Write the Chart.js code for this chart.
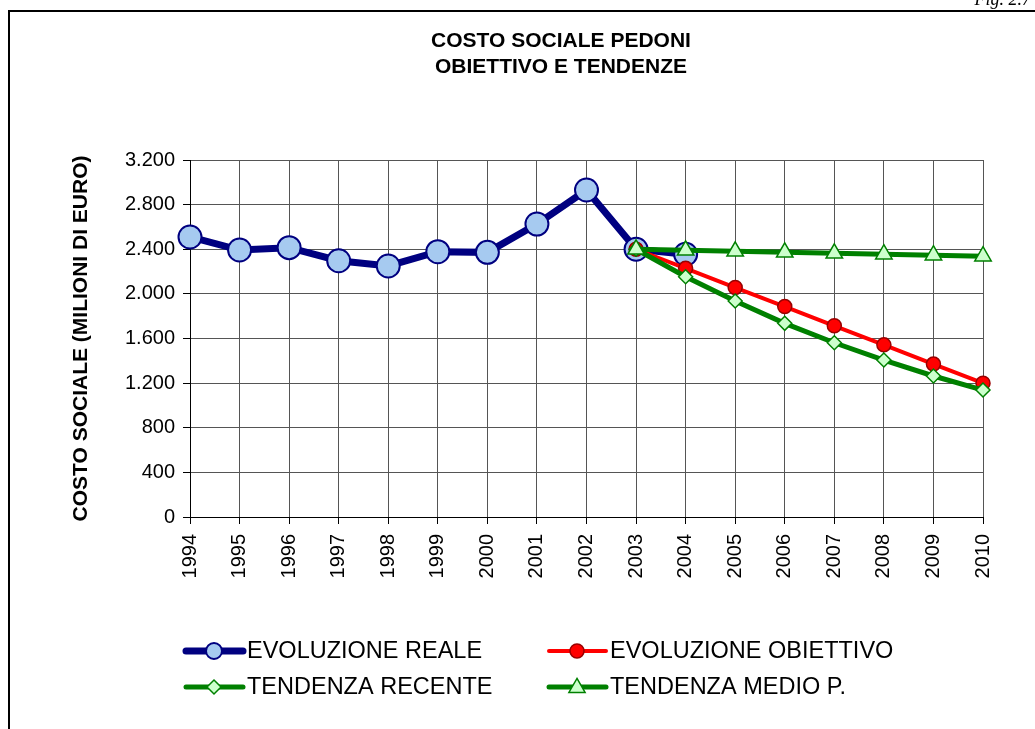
<!DOCTYPE html>
<html>
<head>
<meta charset="utf-8">
<script src="https://cdn.jsdelivr.net/npm/chart.js@4.4.0/dist/chart.umd.min.js"></script>
<style>
  html, body { margin: 0; padding: 0; background: #fff; }
  #wrap { width: 1035px; height: 729px; position: relative; }
</style>
</head>
<body>
<div id="wrap"><canvas id="costoChart" width="1035" height="729"></canvas></div>
<script>
// ---- data ----
const years = ["1994", "1995", "1996", "1997", "1998", "1999", "2000", "2001", "2002",
  "2003", "2004", "2005", "2006", "2007", "2008", "2009", "2010"];

const evoluzioneReale = [2510, 2393, 2414, 2297, 2250, 2378, 2372, 2626, 2931, 2400, 2355,
  null, null, null, null, null, null];
const evoluzioneObiettivo = [null, null, null, null, null, null, null, null, null,
  2400, 2229, 2057, 1886, 1714, 1543, 1371, 1200];
const tendenzaRecente = [null, null, null, null, null, null, null, null, null,
  2400, 2154, 1936, 1736, 1562, 1407, 1264, 1138];
const tendenzaMedio = [null, null, null, null, null, null, null, null, null,
  2400, 2390, 2381, 2372, 2364, 2356, 2347, 2338];

const yTicks = [0, 400, 800, 1200, 1600, 2000, 2400, 2800, 3200];

const titleLines = ["COSTO SOCIALE PEDONI", "OBIETTIVO E TENDENZE"];
const yTitle = "COSTO SOCIALE (MILIONI DI EURO)";
const figLabel = "Fig. 2.7";

const FONT = "Arial, 'Liberation Sans', sans-serif";

function fmtIt(v) {
  // 3200 -> "3.200"
  return String(v).replace(/\B(?=(\d{3})+(?!\d))/g, ".");
}

function drawMarker(ctx, style, r, x, y) {
  if (style === "circle") {
    ctx.arc(x, y, r, 0, Math.PI * 2);
  } else if (style === "rectRot") {
    ctx.moveTo(x, y - r);
    ctx.lineTo(x + r, y);
    ctx.lineTo(x, y + r);
    ctx.lineTo(x - r, y);
    ctx.closePath();
  } else {
    ctx.moveTo(x, y - r * 0.95);
    ctx.lineTo(x + r * 0.9, y + r * 0.6);
    ctx.lineTo(x - r * 0.9, y + r * 0.6);
    ctx.closePath();
  }
}

// frame, title, fig label and the 2x2 legend
const decorPlugin = {
  id: "decor",
  afterDraw(chart) {
    const ctx = chart.ctx;
    ctx.save();

    // frame
    ctx.strokeStyle = "#000";
    ctx.lineWidth = 2;
    ctx.beginPath();
    ctx.moveTo(9, 729);
    ctx.lineTo(9, 11);
    ctx.lineTo(1035, 11);
    ctx.stroke();

    // fig label, cut at the top
    ctx.fillStyle = "#000";
    ctx.font = "italic 18px 'Liberation Serif', 'Times New Roman', serif";
    ctx.textAlign = "right";
    ctx.textBaseline = "alphabetic";
    ctx.fillText(figLabel, 1031, 5);

    // title
    ctx.font = "bold 21px " + FONT;
    ctx.textAlign = "center";
    ctx.textBaseline = "middle";
    ctx.fillText(titleLines[0], 561, 41);
    ctx.fillText(titleLines[1], 561, 67);

    // legend
    const slots = [
      { ds: 0, x: 184, y: 651 },
      { ds: 1, x: 547, y: 651 },
      { ds: 2, x: 184, y: 687 },
      { ds: 3, x: 547, y: 687 },
    ];
    ctx.font = "23.5px " + FONT;
    ctx.textAlign = "left";
    slots.forEach(s => {
      const d = chart.data.datasets[s.ds];
      ctx.strokeStyle = d.borderColor;
      ctx.lineWidth = d.borderWidth;
      ctx.lineCap = "round";
      ctx.beginPath();
      ctx.moveTo(s.x + 2, s.y);
      ctx.lineTo(s.x + 59, s.y);
      ctx.stroke();
      ctx.lineCap = "butt";
      ctx.fillStyle = d.pointBackgroundColor;
      ctx.strokeStyle = d.pointBorderColor;
      ctx.lineWidth = d.pointBorderWidth;
      ctx.beginPath();
      drawMarker(ctx, d.pointStyle, d.legendRadius, s.x + 30, s.y);
      ctx.fill();
      ctx.stroke();
      ctx.fillStyle = "#000";
      ctx.textBaseline = "middle";
      ctx.fillText(d.label, s.x + 63, s.y + 1);
    });

    ctx.restore();
  }
};

new Chart(document.getElementById("costoChart"), {
  type: "line",
  data: {
    labels: years,
    datasets: [
      {
        label: "EVOLUZIONE REALE",
        data: evoluzioneReale,
        borderColor: "#000080",
        borderWidth: 7,
        pointStyle: "circle",
        pointRadius: 11.5,
        pointBackgroundColor: "#a6caf0",
        pointBorderColor: "#000080",
        pointBorderWidth: 2,
        legendRadius: 8,
        order: 4,
      },
      {
        label: "EVOLUZIONE OBIETTIVO",
        data: evoluzioneObiettivo,
        borderColor: "#ff0000",
        borderWidth: 4,
        pointStyle: "circle",
        pointRadius: 7,
        pointBackgroundColor: "#ff0000",
        pointBorderColor: "#990000",
        pointBorderWidth: 1.5,
        legendRadius: 7,
        order: 3,
      },
      {
        label: "TENDENZA RECENTE",
        data: tendenzaRecente,
        borderColor: "#008000",
        borderWidth: 5,
        pointStyle: "rectRot",
        pointRadius: 7,
        pointBackgroundColor: "#ccffcc",
        pointBorderColor: "#008000",
        pointBorderWidth: 1.5,
        legendRadius: 7,
        order: 2,
      },
      {
        label: "TENDENZA MEDIO P.",
        data: tendenzaMedio,
        borderColor: "#008000",
        borderWidth: 5,
        pointStyle: "triangle",
        pointRadius: 9.5,
        pointBackgroundColor: "#ccffcc",
        pointBorderColor: "#008000",
        pointBorderWidth: 1.5,
        legendRadius: 9,
        order: 1,
      },
    ],
  },
  options: {
    responsive: false,
    animation: false,
    spanGaps: false,
    layout: { padding: { left: 65, right: 52, top: 160, bottom: 0 } },
    plugins: {
      legend: { display: false },
      title: { display: false },
      tooltip: { enabled: false },
    },
    elements: { line: { tension: 0 } },
    scales: {
      x: {
        offset: false,
        grid: {
          offset: false,
          color: "#555",
          lineWidth: 1,
          tickLength: 7,
          tickColor: "#000",
        },
        border: { color: "#000", width: 1 },
        ticks: {
          color: "#000",
          font: { family: FONT, size: 20 },
          minRotation: 90,
          maxRotation: 90,
          autoSkip: false,
          padding: 10,
        },
        afterFit(scale) { scale.height = 212; },
      },
      y: {
        min: 0,
        max: 3200,
        afterBuildTicks(scale) { scale.ticks = yTicks.map(v => ({ value: v })); },
        grid: {
          color: "#555",
          lineWidth: 1,
          tickLength: 7,
          tickColor: "#000",
        },
        border: { color: "#000", width: 1 },
        ticks: {
          color: "#000",
          font: { family: FONT, size: 20 },
          padding: 8,
          callback: v => fmtIt(v),
        },
        title: {
          display: true,
          text: yTitle,
          color: "#000",
          font: { family: FONT, size: 21, weight: "bold" },
          padding: { top: 4, bottom: 0 },
        },
        afterFit(scale) { scale.width = 125; },
      },
    },
  },
  plugins: [decorPlugin],
});
</script>
</body>
</html>
